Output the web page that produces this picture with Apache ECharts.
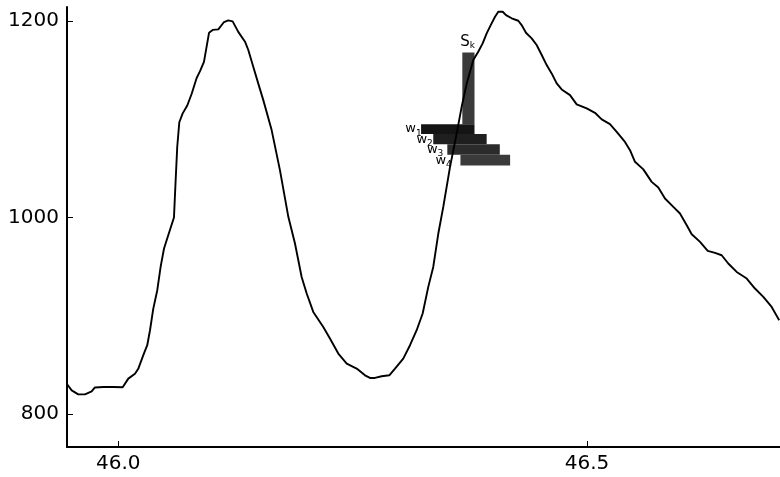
<!DOCTYPE html>
<html>
<head>
<meta charset="utf-8">
<script src="https://cdn.jsdelivr.net/npm/echarts@6/dist/echarts.min.js"></script>
<style>
html,body{margin:0;padding:0;background:#fff;}
#chart{width:780px;height:477px;}
</style>
</head>
<body>
<div id="chart"></div>
<script>
// ---- data ----
const curveX = [45.9456,45.9503,45.9573,45.9645,45.9716,45.9751,45.9840,45.9947,46.0047,46.0107,
46.0178,46.0213,46.0267,46.0309,46.0338,46.0373,46.0416,46.0452,46.0488,46.0533,
46.0594,46.0612,46.0629,46.0651,46.0687,46.0736,46.0783,46.0836,46.0872,46.0914,
46.0968,46.1007,46.1067,46.1128,46.1173,46.1220,46.1280,46.1352,46.1387,46.1440,
46.1504,46.1547,46.1636,46.1725,46.1814,46.1885,46.1956,46.2010,46.2080,46.2187,
46.2258,46.2347,46.2437,46.2543,46.2632,46.2685,46.2738,46.2810,46.2891,46.2952,
46.3040,46.3112,46.3183,46.3247,46.3307,46.3360,46.3414,46.3467,46.3539,46.3610,
46.3663,46.3717,46.3787,46.3840,46.3887,46.3930,46.3973,46.4019,46.4054,46.4101,
46.4136,46.4197,46.4267,46.4303,46.4349,46.4410,46.4463,46.4517,46.4570,46.4623,
46.4677,46.4730,46.4819,46.4890,46.4997,46.5085,46.5157,46.5245,46.5317,46.5405,
46.5459,46.5512,46.5601,46.5690,46.5761,46.5832,46.5921,46.5992,46.6064,46.6117,
46.6206,46.6288,46.6366,46.6437,46.6507,46.6597,46.6704,46.6792,46.6881,46.6970,46.7051];
const curveY = [830,824,820,820,823,827,827.5,827.5,827.2,836,
841,846,860,870,885,907,926,950,968.5,982,
1000,1038,1072,1097,1106,1114,1126,1142,1149,1158.5,
1188,1191,1191.5,1199,1200.7,1199.7,1189,1179,1170.5,1153.5,
1133,1119.5,1089,1048,1000.7,973.6,939.5,922.6,903.9,888.6,
876.8,861.5,851.3,846.2,839.4,836.7,836.7,838.4,839.4,846.2,
856.4,870,885.3,902.3,929.4,949.7,983.7,1010.8,1051.6,1085.6,
1112.7,1136.5,1160.3,1168.7,1177.3,1187.5,1195.9,1204.4,1209.5,1209.5,
1206.1,1202.8,1200.3,1195.9,1188.1,1182.4,1175.6,1165.4,1155.2,1146.7,
1136.5,1130.4,1124.6,1115.2,1111.1,1106.6,1099.9,1095.1,1087.2,1077,
1068.6,1056.7,1049,1036.3,1030.6,1019.4,1010.8,1004.1,992.2,983,
975.2,966,964,961.6,953.2,944.6,937.9,927.7,919.2,909,895.4];

const boxMain = ['S','w','w','w','w'];
const boxSub  = ['k','1','2','3','4'];
const boxX0 = [46.367, 46.323, 46.336, 46.351, 46.365];
const boxX1 = [46.380, 46.380, 46.393, 46.407, 46.418];
const boxY0 = [1095, 1085, 1074.5, 1064, 1053];
const boxY1 = [1168, 1095, 1085, 1074.5, 1064];
// label anchor (join point of letter and subscript; letter centre height)
const labelX = [46.3750, 46.3175, 46.3294, 46.3406, 46.3497];
const labelY = [1178.8, 1090.3, 1079.8, 1069.3, 1058.4];

const xTicks = [46.0, 46.5];
const yTicks = [800, 1000, 1200];

// ---- chart ----
const boxColors = ['#3a3a3a','#141414','#1f1f1f','#2b2b2b','#3a3a3a'];
const mainSize = [15, 13, 13, 13, 13];
const subDrop = [4, 4.5, 4.5, 4.5, 4.5];

const chart = echarts.init(document.getElementById('chart'), null, {renderer:'canvas'});
const FONT = 'DejaVu Sans';

const boxData = boxX0.map((v,i)=>[boxX0[i], boxX1[i], boxY0[i], boxY1[i], labelX[i], labelY[i], i]);

chart.setOption({
  animation:false,
  backgroundColor:'#fff',
  grid:{left:67, right:0, top:7, bottom:30, containLabel:false},
  xAxis:{
    type:'value', min:45.9453, max:46.7059,
    axisLine:{show:true, onZero:false, lineStyle:{color:'#000', width:2}},
    axisTick:{show:true, inside:true, length:6, customValues:xTicks, lineStyle:{color:'#000', width:1}},
    axisLabel:{show:true, customValues:xTicks, margin:7, fontSize:20, fontFamily:FONT, color:'#000',
      formatter:v=>v.toFixed(1)},
    splitLine:{show:false}
  },
  yAxis:{
    type:'value', min:766.4, max:1214.3,
    axisLine:{show:true, onZero:false, lineStyle:{color:'#000', width:2}},
    axisTick:{show:true, inside:true, length:6, customValues:yTicks, lineStyle:{color:'#000', width:1}},
    axisLabel:{show:true, customValues:yTicks, margin:8, fontSize:20, fontFamily:FONT, color:'#000',
      formatter:v=>String(v)},
    splitLine:{show:false}
  },
  series:[
    {
      type:'custom',
      z:2,
      clip:false,
      data:boxData,
      renderItem:function(params, api){
        const i = api.value(6);
        const p0 = api.coord([api.value(0), api.value(3)]);
        const p1 = api.coord([api.value(1), api.value(2)]);
        const la = api.coord([api.value(4), api.value(5)]);
        return {
          type:'group',
          children:[
            {type:'rect', z2:0, shape:{x:p0[0], y:p0[1], width:p1[0]-p0[0], height:p1[1]-p0[1]},
             style:{fill:boxColors[i]}},
            {type:'text', z2:10, x:la[0], y:la[1],
             style:{text:boxMain[i], fontSize:mainSize[i], fontFamily:FONT, fill:'#000',
                    align:'right', verticalAlign:'middle'}},
            {type:'text', z2:10, x:la[0], y:la[1]+subDrop[i],
             style:{text:boxSub[i], fontSize:9, fontFamily:FONT, fill:'#000',
                    align:'left', verticalAlign:'middle'}}
          ]
        };
      }
    },
    {
      type:'line',
      z:3,
      data:curveX.map((x,i)=>[x, curveY[i]]),
      showSymbol:false,
      symbol:'none',
      smooth:false,
      lineStyle:{color:'#000', width:1.9},
      silent:true
    }
  ]
});
</script>
</body>
</html>
